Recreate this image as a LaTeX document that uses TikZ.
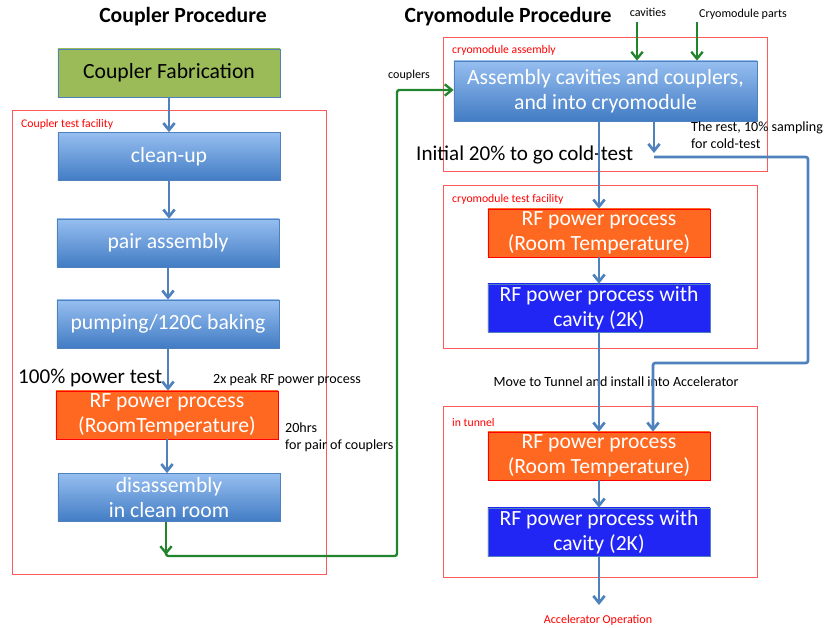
\documentclass[tikz,border=0pt]{standalone}
\usepackage{fontspec}
\setmainfont{Carlito}
\usepackage{tikz}
\usetikzlibrary{arrows.meta}
\definecolor{boxtop}{RGB}{150,190,240}
\definecolor{boxbot}{RGB}{66,124,196}
\definecolor{boxline}{RGB}{79,129,189}
\definecolor{fabgreen}{RGB}{155,187,89}
\definecolor{rforange}{RGB}{255,104,32}
\definecolor{cavblue}{RGB}{34,38,244}
\definecolor{framered}{RGB}{255,90,90}
\definecolor{flowgreen}{RGB}{34,132,44}
\tikzset{
  procbox/.style={rectangle,draw=boxline,line width=.6pt,top color=boxtop,bottom color=boxbot,
    text=white,minimum width=6.66cm,minimum height=1.44cm,inner sep=1pt,align=center,
    font=\fontsize{18.5}{21}\selectfont},
  fabbox/.style={procbox,fill=fabgreen,top color=fabgreen,bottom color=fabgreen,text=black},
  roombox/.style={procbox,draw=red,top color=rforange,bottom color=rforange,text=white},
  coldbox/.style={procbox,draw=boxline,top color=cavblue,bottom color=cavblue,text=white},
  frame/.style={draw=framered,line width=.8pt},
  framelab/.style={text=red,font=\fontsize{10}{12}\selectfont,inner sep=0pt,anchor=west},
  note/.style={font=\fontsize{12}{14.5}\selectfont,inner sep=0pt,align=left},
  bignote/.style={font=\fontsize{18}{21}\selectfont,inner sep=0pt},
  smallnote/.style={font=\fontsize{10.3}{12}\selectfont,inner sep=0pt},
  heading/.style={font=\fontsize{18.5}{21}\selectfont\bfseries,inner sep=0pt},
  tip/.style={-{Straight Barb[length=2.1mm,width=3.4mm]}},
  flow/.style={line width=2.3pt,boxline,tip},
  flowline/.style={line width=2.3pt,boxline,rounded corners=2pt},
  feed/.style={line width=2pt,flowgreen,tip},
  feedline/.style={line width=2pt,flowgreen,rounded corners=2pt}
}
\begin{document}
\begin{tikzpicture}[x=0.03cm,y=-0.03cm]
  \useasboundingbox (0,0) rectangle (828,628);
  % headings
  \node[heading] (ctitle) at (183,17) {Coupler Procedure};
  \node[heading] (mtitle) at (508,17) {Cryomodule Procedure};
  % frames
  \draw[frame] (12,110) rectangle (326,574);
  \draw[frame] (443,37) rectangle (767,171);
  \draw[frame] (443,185) rectangle (757,348);
  \draw[frame] (443,406) rectangle (757,577);
  \node[framelab] (ctf) at (21,124) {Coupler test facility};
  \node[framelab] (cma) at (452,50) {cryomodule assembly};
  \node[framelab] (ctfm) at (452,199) {cryomodule test facility};
  \node[framelab] (tun) at (452,422) {in tunnel};
  % coupler side
  \node[fabbox] (fab) at (169,73) {Coupler Fabrication};
  \node[procbox] (clean) at (169,156.5) {clean-up};
  \node[procbox] (pair) at (168,243) {pair assembly};
  \node[procbox] (pump) at (168,324) {pumping/120C baking};
  \node[roombox] (rfc) at (167,415) {RF power process\\(RoomTemperature)};
  \node[procbox] (dis) at (169,497.5) {disassembly\\in clean room};
  \node[bignote,anchor=west] (full) at (18,378) {100\% power test};
  \node[note,anchor=west] (peak) at (213,380) {2x peak RF power process};
  \node[note,anchor=north west] (hrs) at (285,423) {20hrs\\for pair of couplers};
  \draw[flow] (fab.south) -- (fab.south |- clean.north);
  \draw[flow] (clean.south) -- (clean.south |- pair.north);
  \draw[flow] (pair.south) -- (pair.south |- pump.north);
  \draw[flow] (pump.south) -- (pump.south |- rfc.north);
  \draw[flow] (rfc.south) -- (rfc.south |- dis.north);
  % cryomodule side
  \node[procbox,minimum width=9.09cm,minimum height=1.8cm] (asm) at (605.5,91)
    {Assembly cavities and couplers,\\and into cryomodule};
  \node[roombox] (rf1) at (599,233) {RF power process\\(Room Temperature)};
  \node[coldbox] (cav1) at (599,308) {RF power process with\\cavity (2K)};
  \node[roombox] (rf2) at (599,456) {RF power process\\(Room Temperature)};
  \node[coldbox] (cav2) at (599,532) {RF power process with\\cavity (2K)};
  \node[smallnote] (cavs) at (648,12) {cavities};
  \node[smallnote] (parts) at (743,14) {Cryomodule parts};
  \node[smallnote] (cpl) at (409,75) {couplers};
  \node[note,anchor=north west] (rest) at (691,122) {The rest, 10\% sampling\\for cold-test};
  \node[bignote,anchor=west] (init) at (416,155) {Initial 20\% to go cold-test};
  \node[note] (move) at (616,382) {Move to Tunnel and install into Accelerator};
  \node[smallnote,text=red] (oper) at (598,620) {Accelerator Operation};
  % green feeds
  \coordinate (cavin) at (637,22);
  \coordinate (partin) at (697,22);
  \coordinate (cdrop) at (166,555);
  \coordinate (cup) at (397,556);
  \draw[feed] (cavin) -- (cavin |- asm.north);
  \draw[feed] (partin) -- (partin |- asm.north);
  \draw[feed] (dis.south -| cdrop) -- (cdrop);
  \draw[feedline,tip] (cdrop) |- (cup) |- (asm.west |- 0,90);
  % blue flow
  \coordinate (sdrop) at (654,153);
  \coordinate (sright) at (808,157);
  \coordinate (sback) at (653,363);
  \draw[flow] (asm.south -| rf1.north) -- (rf1.north);
  \draw[flow] (rf1.south) -- (cav1.north);
  \draw[flow] (cav1.south) -- (rf2.north);
  \draw[flow] (rf2.south) -- (cav2.north);
  \draw[flow] (cav2.south) -- (599,605);
  \draw[flow] (asm.south -| sdrop) -- (sdrop);
  \draw[flowline,tip] (sdrop |- sright) -- (sright) |- (sback) -- (sback |- rf2.north);
\end{tikzpicture}
\end{document}
